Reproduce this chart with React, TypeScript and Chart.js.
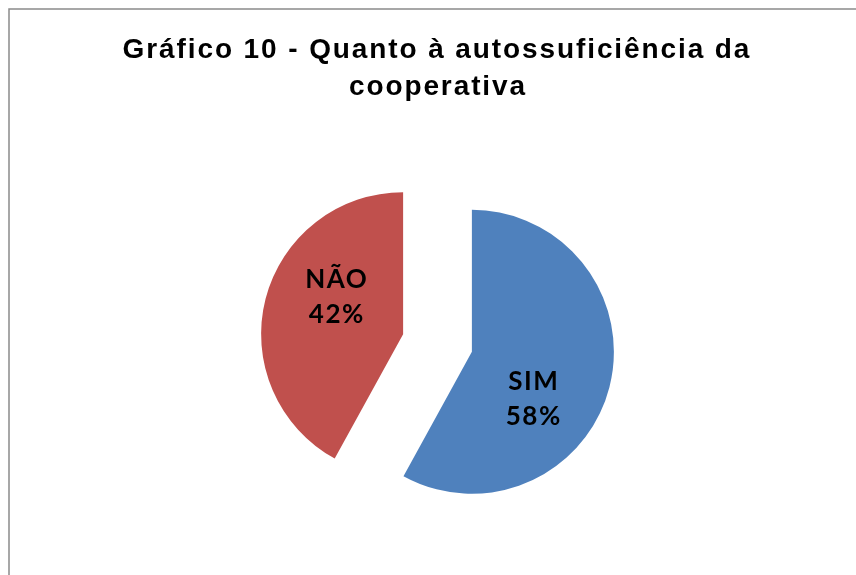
import React, { useEffect, useRef } from "react";
import { Chart, registerables } from "chart.js";

Chart.register(...registerables);

const TITLE_LINES = ["Gráfico 10 - Quanto à autossuficiência da", "cooperativa"];
const CATEGORIES = ["SIM", "NÃO"];
const VALUES = [58, 42];
const COLORS = ["#4F81BD", "#C0504D"];

const PIE_RADIUS = 142;
const EXPLODE_PX = 35.5;

const frameAndTitle = {
  id: "frameAndTitle",
  beforeDraw(chart: any) {
    const ctx = chart.ctx;
    ctx.save();
    ctx.fillStyle = "#ffffff";
    ctx.fillRect(0, 0, chart.width, chart.height);
    ctx.strokeStyle = "#8a8a8a";
    ctx.lineWidth = 1.5;
    ctx.strokeRect(9, 9, 1200, 1200);
    ctx.fillStyle = "#000000";
    ctx.font = "bold 28px 'Liberation Sans', Arial, sans-serif";
    (ctx as any).letterSpacing = "1.9px";
    ctx.textAlign = "center";
    ctx.textBaseline = "alphabetic";
    ctx.fillText(TITLE_LINES[0], 436 + 0.95, 58);
    ctx.fillText(TITLE_LINES[1], 437 + 0.95, 95);
    ctx.restore();
  },
};

// Explode slices: draw each library arc element translated along its bisector.
const explodedSlices = {
  id: "explodedSlices",
  beforeDatasetDraw(chart: any, args: any) {
    const ctx = chart.ctx;
    const meta = args.meta;
    const area = chart.chartArea;
    ctx.save();
    meta.data.forEach((arc: any) => {
      const mid = (arc.startAngle + arc.endAngle) / 2;
      ctx.save();
      ctx.translate(Math.cos(mid) * EXPLODE_PX, Math.sin(mid) * EXPLODE_PX);
      arc.draw(ctx, area);
      ctx.restore();
    });
    ctx.restore();
    return false;
  },
};

const sliceLabels = {
  id: "sliceLabels",
  afterDatasetsDraw(chart: any, _args: any, opts: any) {
    const ctx = chart.ctx;
    const meta = chart.getDatasetMeta(0);
    const total = VALUES.reduce((a, b) => a + b, 0);
    ctx.save();
    ctx.fillStyle = "#000000";
    ctx.font = "bold 26px Lato, 'Open Sans', sans-serif";
    (ctx as any).letterSpacing = "1.5px";
    ctx.textAlign = "center";
    ctx.textBaseline = "alphabetic";
    meta.data.forEach((arc: any, i: number) => {
      const mid = (arc.startAngle + arc.endAngle) / 2;
      const sx = arc.x + Math.cos(mid) * EXPLODE_PX;
      const sy = arc.y + Math.sin(mid) * EXPLODE_PX;
      const a = mid + ((opts.angleShift[i] || 0) * Math.PI) / 180;
      const d = arc.outerRadius * opts.dist;
      const lx = sx + Math.cos(a) * d + 0.75;
      const ly = sy + Math.sin(a) * d;
      const pct = Math.round((VALUES[i] / total) * 100) + "%";
      ctx.fillText(CATEGORIES[i], lx, ly - 8.3);
      ctx.fillText(pct, lx, ly + 26.3);
    });
    ctx.restore();
  },
};

export default function App() {
  const ref = useRef<HTMLCanvasElement | null>(null);
  useEffect(() => {
    if (!ref.current) return;
    const chart = new Chart(ref.current, {
      type: "pie",
      data: {
        labels: CATEGORIES,
        datasets: [
          {
            data: VALUES,
            backgroundColor: COLORS,
            borderWidth: 0,
            offset: 0,
            hoverOffset: 0,
          } as any,
        ],
      },
      options: {
        responsive: false,
        animation: false,
        radius: PIE_RADIUS,
        layout: { padding: { left: 19, right: 0, top: 111, bottom: 0 } },
        plugins: {
          legend: { display: false },
          title: { display: false },
          tooltip: { enabled: false },
          sliceLabels: { angleShift: [23, 15], dist: 0.542 },
        } as any,
        events: [],
      } as any,
      plugins: [frameAndTitle, explodedSlices, sliceLabels],
    });
    return () => chart.destroy();
  }, []);
  return (
    <div style={{ position: "absolute", left: 0, top: 0, width: 856, height: 575 }}>
      <canvas ref={ref} width={856} height={575} style={{ display: "block", width: 856, height: 575 }} />
    </div>
  );
}
